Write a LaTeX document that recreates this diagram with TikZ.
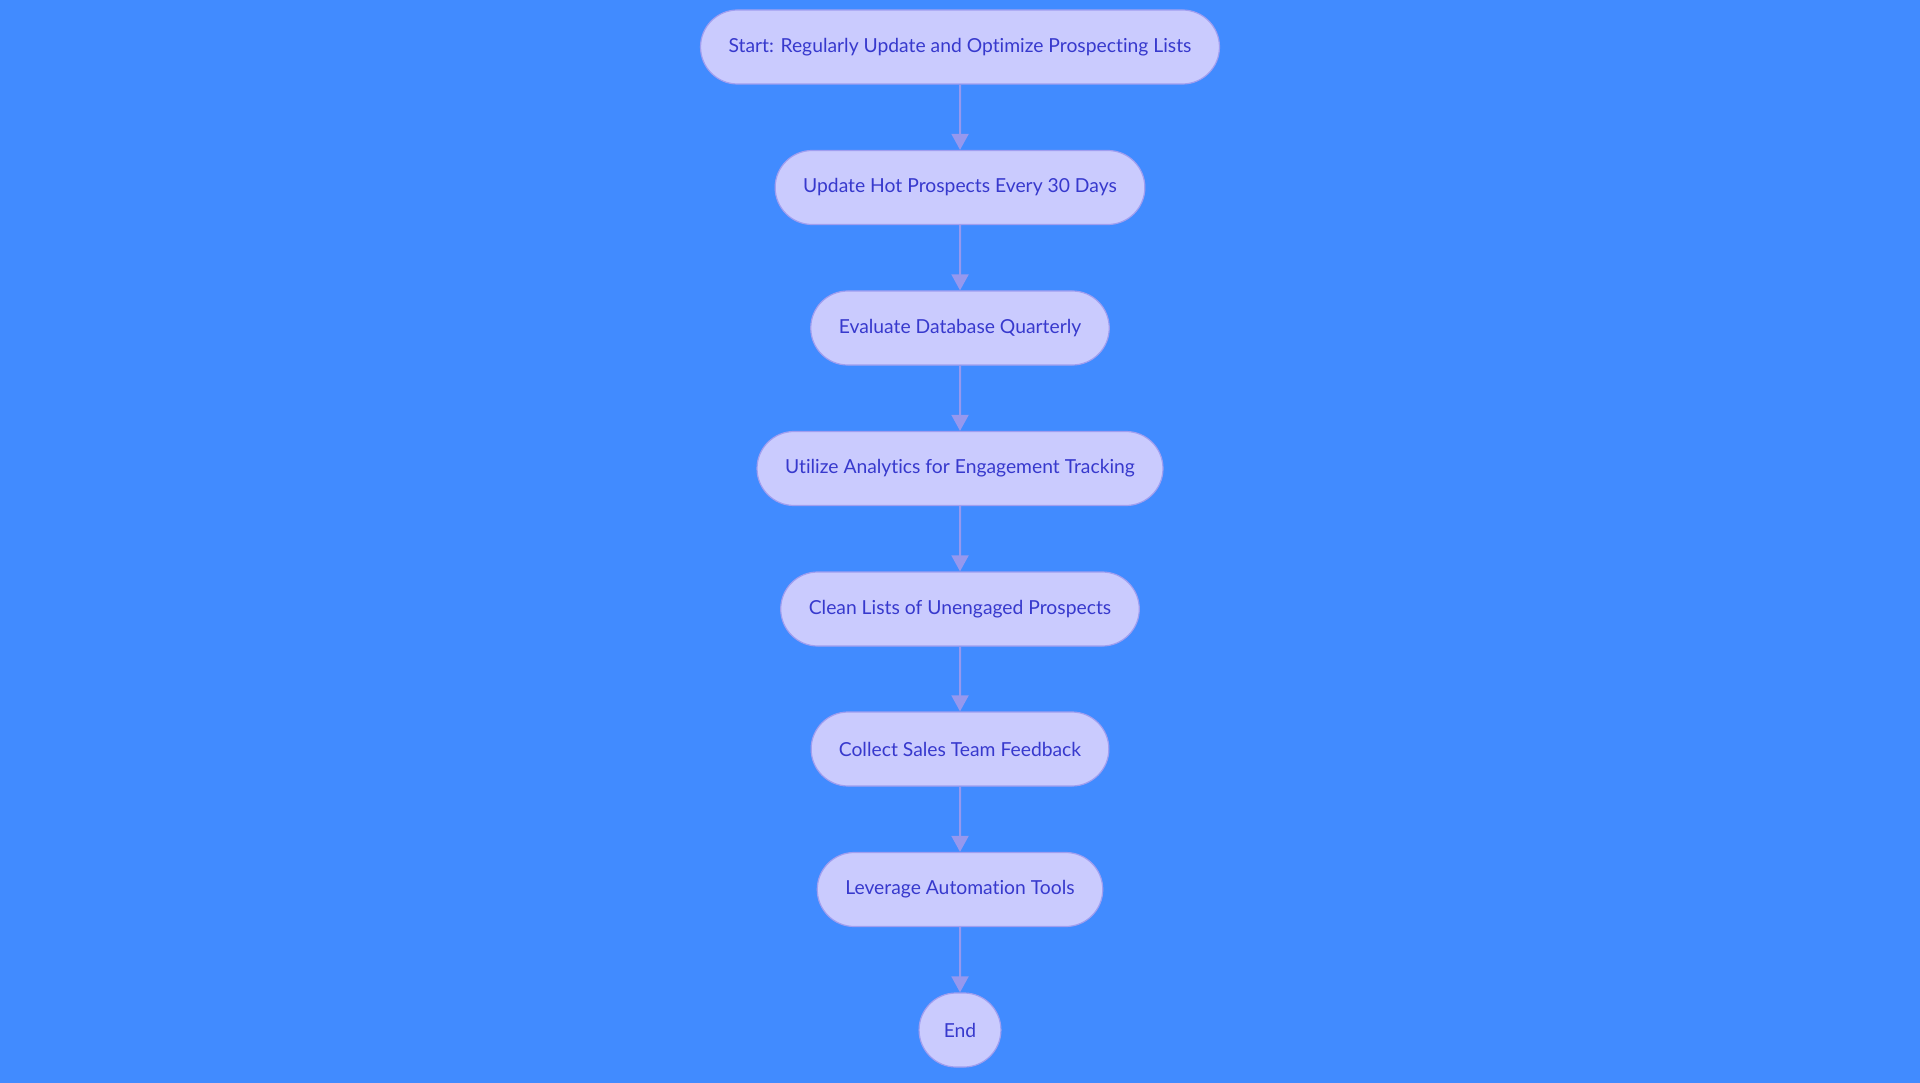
\documentclass[tikz,border=0pt]{standalone}
\usepackage{fontspec}
\setmainfont{Lato}[Ligatures={NoCommon,NoRare}]
\usepackage{xcolor}
\definecolor{hbg}{RGB}{65,139,255}
\definecolor{hfill}{RGB}{202,203,254}
\definecolor{hline}{RGB}{160,158,240}
\definecolor{htext}{RGB}{55,57,205}
\definecolor{harrow}{RGB}{150,152,238}
\usetikzlibrary{arrows.meta,shapes.misc}
\tikzset{
  stepnode/.style={rounded rectangle,draw=hline,line width=1.2pt,fill=hfill,text=htext,
    minimum height=74pt,inner xsep=27pt,font=\fontsize{19.3}{23}\selectfont},
  flowarrow/.style={draw=harrow,line width=2pt,-{Triangle[width=17pt,length=16pt]}}
}
\begin{document}
\begin{tikzpicture}[x=1pt,y=1pt]
\useasboundingbox[fill=hbg] (0,0) rectangle (1920,-1083);
\node [stepnode] (s1) at (960,-47) {Start: Regularly Update and Optimize Prospecting Lists};
\node [stepnode] (s2) at (960,-187.5) {Update Hot Prospects Every 30 Days};
\node [stepnode] (s3) at (960,-328) {Evaluate Database Quarterly};
\node [stepnode] (s4) at (960,-468.5) {Utilize Analytics for Engagement Tracking};
\node [stepnode] (s5) at (960,-609) {Clean Lists of Unengaged Prospects};
\node [stepnode] (s6) at (960,-749) {Collect Sales Team Feedback};
\node [stepnode] (s7) at (960,-889.5) {Leverage Automation Tools};
\node [stepnode,inner xsep=24pt] (s8) at (960,-1030) {End};
\draw [flowarrow] (s1) -- (s2);
\draw [flowarrow] (s2) -- (s3);
\draw [flowarrow] (s3) -- (s4);
\draw [flowarrow] (s4) -- (s5);
\draw [flowarrow] (s5) -- (s6);
\draw [flowarrow] (s6) -- (s7);
\draw [flowarrow] (s7) -- (s8);
\end{tikzpicture}
\end{document}
